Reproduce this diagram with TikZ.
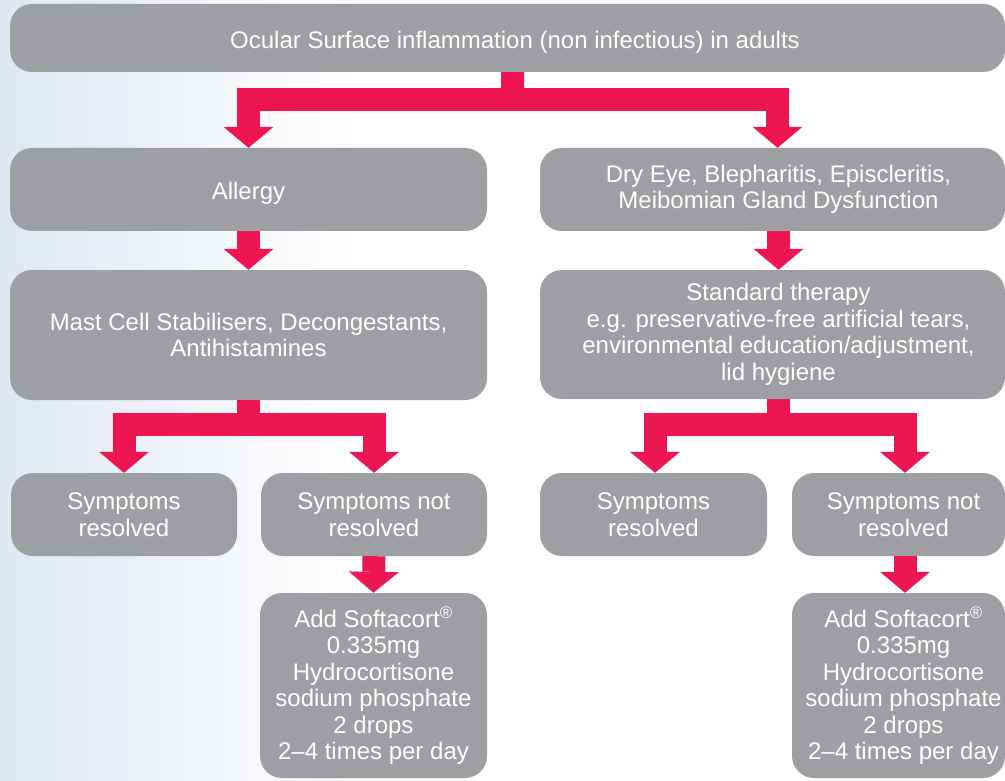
\documentclass[tikz,border=0pt]{standalone}
\usepackage{fontspec}
\setmainfont{Liberation Sans}
\usetikzlibrary{arrows.meta}
\definecolor{boxgray}{RGB}{158,159,162}
\definecolor{arrred}{RGB}{237,22,82}
\definecolor{bgblue}{RGB}{224,231,240}
\newcommand\rsA{\hspace*{12pt}}
\newcommand\rsB{\hspace*{10pt}}
\begin{document}
\begin{tikzpicture}[x=1pt,y=-1pt,
  box/.style={fill=boxgray, rounded corners=22pt, text=white,
    font=\fontsize{24}{26.5}\selectfont, align=center, inner sep=0pt, anchor=center,
    execute at begin node={\rule{0pt}{25.5pt}}},
  flow/.style={draw=arrred, line width=23pt, line join=miter, line cap=butt,
    -{Triangle[width=50pt,length=21pt,line width=0pt]}}]
\useasboundingbox (0,0) rectangle (1005,781);
\fill[white] (0,0) rectangle (1005,781);
\shade[left color=bgblue,right color=white] (0,0) rectangle (360,781);

\node[box, minimum width=995pt, minimum height=68pt] (top) at (507.5,38)
  {\hspace*{15pt}Ocular Surface inflammation (non infectious) in adults};
\node[box, minimum width=477pt, minimum height=83pt] (allergy) at (248.5,189.5) {Allergy};
\node[box, minimum width=465pt, minimum height=83pt] (dryeye) at (772.5,189.5)
  {\rsA Dry Eye, Blepharitis, Episcleritis,\\\rsA Meibomian Gland Dysfunction};
\node[box, minimum width=477pt, minimum height=130pt] (mast) at (248.5,335)
  {Mast Cell Stabilisers, Decongestants,\\Antihistamines};
\node[box, minimum width=465pt, minimum height=129pt] (std) at (772.5,334.5)
  {\rsA Standard therapy\\\rsA e.g. preservative-free artificial tears,\\\rsA environmental education/adjustment,\\\rsA lid hygiene};
\node[box, minimum width=226pt, minimum height=83pt] (sr1) at (124,514.5) {Symptoms\\resolved};
\node[box, minimum width=226pt, minimum height=83pt] (sn1) at (374,514.5) {Symptoms not\\resolved};
\node[box, minimum width=227pt, minimum height=83pt] (sr2) at (653.5,514.5) {Symptoms\\resolved};
\node[box, minimum width=213pt, minimum height=83pt] (sn2) at (898.5,514.5) {\rsB Symptoms not\\\rsB resolved};
\node[box, minimum width=227pt, minimum height=185pt] (add1) at (373.5,685.5)
  {Add Softacort\textsuperscript{\textregistered}\\0.335mg\\Hydrocortisone\\sodium phosphate\\2 drops\\2–4 times per day};
\node[box, minimum width=213pt, minimum height=185pt] (add2) at (898.5,685.5)
  {\rsB Add Softacort\textsuperscript{\textregistered}\\\rsB 0.335mg\\\rsB Hydrocortisone\\\rsB sodium phosphate\\\rsB 2 drops\\\rsB 2–4 times per day};

\draw[flow] ([xshift=5pt]top.south) -- ++(0,27) -| (allergy.north);
\draw[flow] ([xshift=5pt]top.south) -- ++(0,27) -| ([xshift=5pt]dryeye.north);
\draw[flow] (allergy.south) -- (mast.north);
\draw[flow] ([xshift=6pt]dryeye.south) -- ([xshift=6pt]std.north);
\draw[flow] (mast.south) -- ++(0,24.5) -| (sr1.north);
\draw[flow] (mast.south) -- ++(0,24.5) -| (sn1.north);
\draw[flow] ([xshift=6pt]std.south) -- ++(0,25.5) -| ([xshift=1.5pt]sr2.north);
\draw[flow] ([xshift=6pt]std.south) -- ++(0,25.5) -| ([xshift=6.5pt]sn2.north);
\draw[flow] (sn1.south) -- (add1.north);
\draw[flow] ([xshift=6.5pt]sn2.south) -- ([xshift=6.5pt]add2.north);
\end{tikzpicture}
\end{document}
